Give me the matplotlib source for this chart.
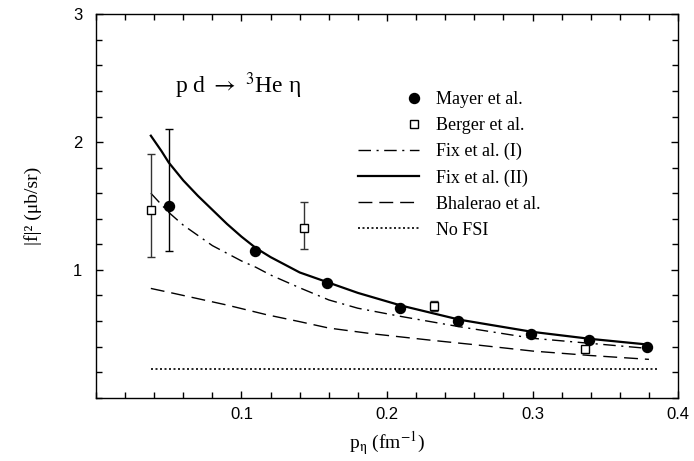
import numpy as np
import matplotlib
matplotlib.use('Agg')
import matplotlib.pyplot as plt
from matplotlib.legend_handler import HandlerLine2D
from matplotlib.ticker import MultipleLocator

# ---- data ----
mayer_x = [0.050, 0.109, 0.159, 0.209, 0.249, 0.299, 0.339, 0.379]
mayer_y = [1.50, 1.15, 0.90, 0.70, 0.60, 0.50, 0.45, 0.40]
mayer_err_lo = [0.35, 0, 0, 0, 0, 0, 0, 0]
mayer_err_hi = [0.60, 0, 0, 0, 0, 0, 0, 0]

berger_x = [0.0377, 0.1432, 0.2322, 0.336]
berger_y = [1.47, 1.33, 0.72, 0.38]
berger_err_lo = [0.37, 0.17, 0.04, 0.0]
berger_err_hi = [0.44, 0.20, 0.04, 0.0]

fix2_x = [0.0377, 0.045, 0.05, 0.06, 0.07, 0.08, 0.09, 0.10, 0.11, 0.12, 0.13,
          0.14, 0.16, 0.18, 0.21, 0.25, 0.30, 0.34, 0.38]
fix2_y = [2.05, 1.93, 1.84, 1.70, 1.58, 1.47, 1.36, 1.26, 1.17, 1.10, 1.04,
          0.98, 0.90, 0.82, 0.72, 0.61, 0.515, 0.46, 0.415]

fix1_x = [0.0377, 0.045, 0.05, 0.06, 0.07, 0.08, 0.09, 0.10, 0.11, 0.12, 0.13,
          0.14, 0.16, 0.18, 0.21, 0.25, 0.30, 0.34, 0.38]
fix1_y = [1.60, 1.51, 1.45, 1.35, 1.27, 1.19, 1.13, 1.07, 1.02, 0.96, 0.91,
          0.86, 0.765, 0.70, 0.635, 0.555, 0.465, 0.425, 0.385]

bhal_x = [0.0377, 0.05, 0.07, 0.09, 0.117, 0.14, 0.16, 0.19, 0.23, 0.26, 0.30, 0.34, 0.38]
bhal_y = [0.855, 0.825, 0.775, 0.725, 0.65, 0.595, 0.545, 0.50, 0.45, 0.415, 0.365, 0.33, 0.30]

nofsi_x = [0.0377, 0.386]
nofsi_y = [0.224, 0.224]

xticks = [0.1, 0.2, 0.3, 0.4]
xticklabels = ['0.1', '0.2', '0.3', '0.4']
yticks = [1, 2, 3]
yticklabels = ['1', '2', '3']

# ---- style ----
plt.rcParams['mathtext.fontset'] = 'stix'
serif = ['Liberation Serif', 'DejaVu Serif']
sans = ['Liberation Sans', 'DejaVu Sans']

fig = plt.figure(figsize=(6.94, 4.61), dpi=100)
ax = fig.add_axes([0.1383, 0.1373, 0.977 - 0.1383, 0.969 - 0.1373])

ax.plot(fix2_x, fix2_y, color='black', lw=1.6, ls='-', label='Fix et al. (II)')
ax.plot(fix1_x, fix1_y, color='black', lw=1.0, ls=(0, (9, 4, 1.5, 4)), label='Fix et al. (I)')
ax.plot(bhal_x, bhal_y, color='black', lw=1.0, ls=(0, (10, 5)), label='Bhalerao et al.')
ax.plot(nofsi_x, nofsi_y, color='black', lw=1.2, ls=(0, (1.2, 1.5)), label='No FSI')

# error bars only where an error exists
m_idx = [i for i in range(len(mayer_x)) if mayer_err_lo[i] > 0 or mayer_err_hi[i] > 0]
b_idx = [i for i in range(len(berger_x)) if berger_err_lo[i] > 0 or berger_err_hi[i] > 0]
ax.errorbar([berger_x[i] for i in b_idx], [berger_y[i] for i in b_idx],
            yerr=[[berger_err_lo[i] for i in b_idx], [berger_err_hi[i] for i in b_idx]],
            fmt='none', ecolor='#333333', elinewidth=1.0, capsize=3.2, capthick=1.0)
ax.errorbar([mayer_x[i] for i in m_idx], [mayer_y[i] for i in m_idx],
            yerr=[[mayer_err_lo[i] for i in m_idx], [mayer_err_hi[i] for i in m_idx]],
            fmt='none', ecolor='black', elinewidth=1.0, capsize=3.2, capthick=1.0)

mayer_line, = ax.plot(mayer_x, mayer_y, ls='none', marker='o', ms=7.2, mfc='black',
                      mec='black', label='Mayer et al.', zorder=5)
berger_line, = ax.plot(berger_x, berger_y, ls='none', marker='s', ms=5.6, mfc='white',
                       mec='black', mew=1.0, label='Berger et al.', zorder=5)

ax.set_xlim(0.0, 0.4)
ax.set_ylim(0.0, 3.0)
ax.set_xticks(xticks)
ax.set_xticklabels(xticklabels, fontfamily=sans, fontsize=12)
ax.set_yticks(yticks)
ax.set_yticklabels(yticklabels, fontfamily=sans, fontsize=12)
ax.xaxis.set_minor_locator(MultipleLocator(0.02))
ax.yaxis.set_minor_locator(MultipleLocator(0.2))
ax.tick_params(which='both', direction='in', top=True, right=True, width=1.0, color='black')
ax.tick_params(axis='x', which='major', length=5, pad=7)
ax.tick_params(axis='y', which='major', length=5, pad=10)
ax.tick_params(which='minor', length=4)
for s in ax.spines.values():
    s.set_linewidth(1.0)

ax.set_xlabel(r'p$_{\mathrm{\eta}}$ (fm$^{-1}$)', fontfamily=serif, fontsize=14, labelpad=5)
ax.set_ylabel('|f|² (μb/sr)', fontfamily=serif, fontsize=14, labelpad=22)

ax.text(0.054, 2.44, r'p d $\rightarrow$ $^{3}$He η', fontfamily=serif, fontsize=17,
        va='center', ha='left')


class RightMarker(HandlerLine2D):
    def get_xdata(self, legend, xdescent, ydescent, width, height, fontsize):
        p = -xdescent + width * 0.92
        return np.array([p, p]), np.array([p])


handles, labels = ax.get_legend_handles_labels()
order = ['Mayer et al.', 'Berger et al.', 'Fix et al. (I)', 'Fix et al. (II)',
         'Bhalerao et al.', 'No FSI']
hmap = dict(zip(labels, handles))
leg = ax.legend([hmap[l] for l in order], order, loc='upper left',
                bbox_to_anchor=(0.45, 0.80), frameon=False, borderpad=0, borderaxespad=0,
                handlelength=3.4, handletextpad=0.9, labelspacing=0.5, numpoints=1,
                prop={'family': serif, 'size': 13},
                handler_map={mayer_line: RightMarker(), berger_line: RightMarker()})

fig.savefig('out.png', dpi=100)
